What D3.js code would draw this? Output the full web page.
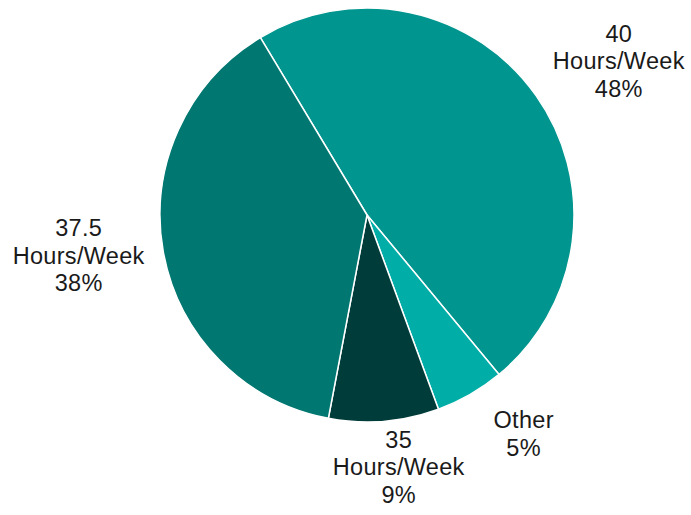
<!DOCTYPE html>
<html>
<head>
<meta charset="utf-8">
<script src="https://cdn.jsdelivr.net/npm/d3@7"></script>
<style>
  body { margin: 0; background: #fff; }
  svg { display: block; }
</style>
</head>
<body>
<svg width="691" height="515"></svg>
<script>
// slice data, in drawing order (clockwise from the 40 h slice)
const categories = ["40 Hours/Week", "Other", "35 Hours/Week", "37.5 Hours/Week"];
const labelLines = [["40", "Hours/Week"], ["Other"], ["35", "Hours/Week"], ["37.5", "Hours/Week"]];
const shares = [47.6, 5.4, 8.6, 38.4];
const colors = ["#00958e", "#00aea7", "#003d3a", "#007770"];

let svg = d3.select('svg');
let cx = 367, cy = 215, radius = 207;

let g = svg.append("g").attr("transform", `translate(${cx},${cy})`);

let startDeg = -31;
let pie = d3.pie()
  .sort(null)
  .value(d => d)
  .startAngle(startDeg * Math.PI / 180)
  .endAngle((startDeg + 360) * Math.PI / 180);

let arcs = pie(shares);

let arc = d3.arc().innerRadius(0).outerRadius(radius);

g.selectAll("path.slice")
  .data(arcs)
  .enter()
  .append("path")
    .attr("class", "slice")
    .attr("d", arc)
    .attr("fill", (d, i) => colors[i])
    .attr("stroke", "#fff")
    .attr("stroke-width", 1.5)
    .attr("stroke-linejoin", "round");

// labels sit outside the pie, on an ellipse around it
let rx = 300, ry = 258, shiftX = 7, shiftY = -5;
let lineH = 27.5;
arcs.forEach((d, i) => {
  let a = (d.startAngle + d.endAngle) / 2;
  let x = rx * Math.sin(a) + shiftX;
  let y = -ry * Math.cos(a) + shiftY;
  let lines = labelLines[i].concat([Math.round(shares[i]) + "%"]);
  let top = y - (lines.length - 1) * lineH / 2;
  let t = g.append("text")
    .attr("text-anchor", "middle")
    .attr("font-family", "Liberation Sans, Arial, sans-serif")
    .attr("font-size", 23.5)
    .attr("letter-spacing", 0.3)
    .attr("fill", "#1a1a1a");
  lines.forEach((s, j) => {
    t.append("tspan")
      .attr("x", x)
      .attr("y", top + j * lineH)
      .attr("dy", "0.35em")
      .text(s);
  });
});
</script>
</body>
</html>
